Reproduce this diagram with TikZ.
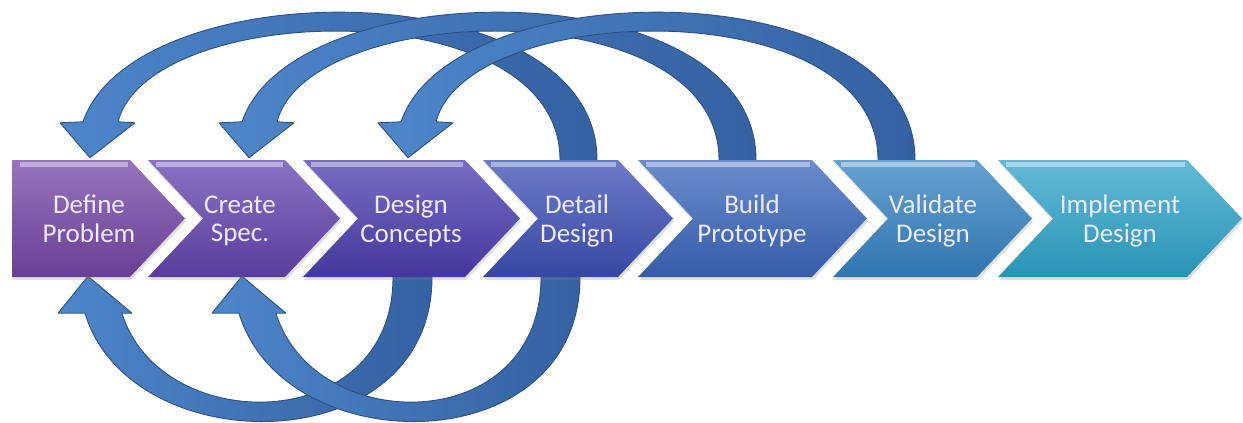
\documentclass[tikz,border=0pt]{standalone}
\usepackage{fontspec}
\setmainfont{Carlito}
\usetikzlibrary{shadows}

\definecolor{stepA}{HTML}{7446A6}
\definecolor{stepB}{HTML}{6244AE}
\definecolor{stepC}{HTML}{4A3DAE}
\definecolor{stepD}{HTML}{3C4FB5}
\definecolor{stepE}{HTML}{3966BB}
\definecolor{stepF}{HTML}{3482C2}
\definecolor{stepG}{HTML}{2EA4C9}
\definecolor{steptext}{HTML}{EEEAF8}
\definecolor{arrowlight}{HTML}{4D86C9}
\definecolor{arrowdark}{HTML}{3461A2}
\definecolor{arrowline}{HTML}{2C5180}

\pgfdeclarelayer{back}
\pgfsetlayers{back,main}

\tikzset{
  stepbox/.style={draw=none, drop shadow={opacity=0.25, shadow xshift=1pt, shadow yshift=-3pt}},
  steplabel/.style={text=steptext, align=center, inner sep=0pt, minimum height=117pt,
    font=\fontsize{27}{28.5}\selectfont, text depth=0pt},
  looparrow/.style={draw=arrowline, line width=0.9pt, line join=round,
    left color=arrowlight, right color=arrowdark}
}

\begin{document}
\begin{tikzpicture}[x=1pt, y=-1pt]
\useasboundingbox (0,0) rectangle (1243,423);

% the seven steps, left to right
\foreach \nm/\lx/\rx/\nd/\cx/\col/\txt in {
    define/12/130/0/89/stepA/{Define\\Problem},
    create/148/285/55/240/stepB/{Create\\Spec.},
    concepts/303/465/55/411/stepC/{Design\\Concepts},
    detail/483/618/55/577/stepD/{Detail\\Design},
    build/638/812/55/752/stepE/{Build\\Prototype},
    validate/833/977/55/933/stepF/{Validate\\Design},
    implement/998/1187/55/1120/stepG/{Implement\\Design}}{
  \path[stepbox, top color=\col!75!white, bottom color=\col!90!black]
    (\lx,160) -- (\rx,160) -- (\rx+55,218.5) -- (\rx,277) -- (\lx,277)
    -- (\lx+\nd,218.5) -- cycle;
  \fill[\col!35!white, opacity=0.8] (\lx+8,162) rectangle (\rx-2,167);
  \node[steplabel] (\nm) at (\cx,218.5) {\txt};
}

\begin{pgfonlayer}{back}
% loops back over the top
\foreach \hd/\hx/\tl/\tlx in {define/1/detail/1, create/9/build/-15, concepts/-3/validate/-37}{
  \coordinate (h) at ([xshift=\hx pt]\hd.north);
  \coordinate (t) at ([xshift=\tlx pt]\tl.north);
  \draw[looparrow] ([shift={(19,15)}]t) -- ([xshift=19pt]t)
    .. controls ([shift={(19,-190)}]t) and ([shift={(45,-190)}]h) .. ([shift={(-7,-38)}]h)
    -- ([shift={(-30,-37)}]h) -- ([shift={(0,-2)}]h) -- ([shift={(45,-37)}]h)
    -- ([shift={(28,-38)}]h)
    .. controls ([shift={(60,-160)}]h) and ([shift={(-18,-170)}]t) .. ([xshift=-18pt]t)
    -- ([shift={(-18,15)}]t) -- cycle;
}
% loops back underneath
\foreach \hd/\hx/\tl/\tlx in {define/-1/concepts/1, create/2/detail/-17}{
  \coordinate (h) at ([xshift=\hx pt]\hd.south);
  \coordinate (t) at ([xshift=\tlx pt]\tl.south);
  \draw[looparrow] ([shift={(20,-15)}]t) -- ([xshift=20pt]t)
    .. controls ([shift={(20,186)}]t) and ([shift={(42,186)}]h) .. ([shift={(-3,36)}]h)
    -- ([shift={(-30,36)}]h) -- ([shift={(0,-1)}]h) -- ([shift={(44,36)}]h)
    -- ([shift={(34,36)}]h)
    .. controls ([shift={(72,160)}]h) and ([shift={(-19,160)}]t) .. ([xshift=-19pt]t)
    -- ([shift={(-19,-15)}]t) -- cycle;
}
\end{pgfonlayer}
\end{tikzpicture}
\end{document}
